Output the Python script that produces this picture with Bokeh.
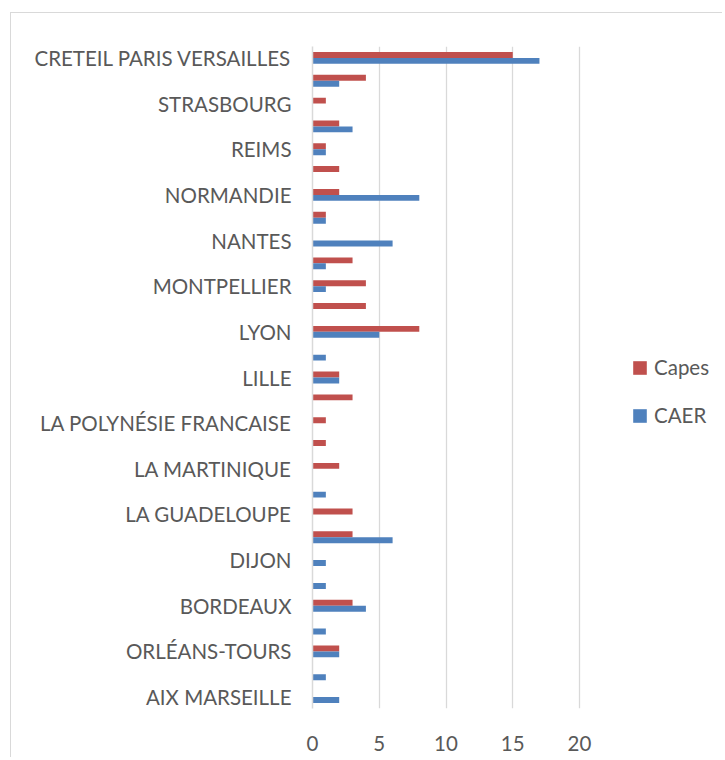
from bokeh.plotting import figure
from bokeh.models import ColumnDataSource, Range1d, FixedTicker, Legend, LegendItem
from bokeh.embed import file_html
from bokeh.resources import INLINE

# categories from bottom to top (hidden ones are not labelled in the reference)
categories = [
    "AIX MARSEILLE", "AMIENS", "ORLÉANS-TOURS", "BESANCON", "BORDEAUX",
    "CLERMONT-FERRAND", "DIJON", "GRENOBLE", "LA GUADELOUPE", "LA GUYANE",
    "LA MARTINIQUE", "LA NOUVELLE CALÉDONIE", "LA POLYNÉSIE FRANCAISE", "LA RÉUNION",
    "LILLE", "LIMOGES", "LYON", "MAYOTTE", "MONTPELLIER", "NANCY-METZ",
    "NANTES", "NICE", "NORMANDIE", "POITIERS", "REIMS", "RENNES",
    "STRASBOURG", "TOULOUSE", "CRETEIL PARIS VERSAILLES",
]
capes = [0, 0, 2, 0, 3, 0, 0, 3, 3, 0, 2, 1, 1, 3, 2, 0, 8, 4, 4, 3, 0, 1, 2, 2, 1, 2, 1, 4, 15]
caer = [2, 1, 2, 1, 4, 1, 1, 6, 0, 1, 0, 0, 0, 0, 2, 1, 5, 0, 1, 1, 6, 1, 8, 0, 1, 3, 0, 2, 17]
x_ticks = [0, 5, 10, 15, 20]
series_names = ["Capes", "CAER"]

RED = "#C0504D"
BLUE = "#4F81BD"
TXT = "#595959"
GRID = "#d9d9d9"
FONT = "Lato"
FS = "20.5px"

idx = list(range(len(categories)))
src = ColumnDataSource(dict(
    y_capes=[i + 0.13 for i in idx],
    y_caer=[i - 0.13 for i in idx],
    capes=capes,
    caer=caer,
))

# plot frame spans 301..712 px; the value axis 0..20 occupies the first 267 px,
# the remaining space holds the legend (as in the reference)
FRAME_W = 411
X_END = 20 * FRAME_W / 267.0

p = figure(
    width=712, height=745,
    x_range=Range1d(0, X_END), y_range=Range1d(-0.5, len(categories) - 0.5),
    output_backend="svg", toolbar_location=None,
    min_border_left=301, min_border_right=0, min_border_top=33, min_border_bottom=50,
)
p.margin = (12, 0, 0, 10)
p.styles = {"border-left": "1px solid #d9d9d9", "border-top": "1px solid #d9d9d9"}
p.outline_line_color = None
p.background_fill_color = "white"
p.border_fill_color = "white"

r_capes = p.hbar(y="y_capes", right="capes", left=0, height=0.26, source=src,
                 fill_color=RED, line_color=None)
r_caer = p.hbar(y="y_caer", right="caer", left=0, height=0.26, source=src,
                fill_color=BLUE, line_color=None)

# axes
p.xaxis.ticker = FixedTicker(ticks=x_ticks)
p.xaxis.axis_line_color = None
p.xaxis.major_tick_line_color = None
p.xaxis.minor_tick_line_color = None
p.xaxis.major_label_text_font = FONT
p.xaxis.major_label_text_font_size = FS
p.xaxis.major_label_text_color = TXT
p.xaxis.major_label_standoff = 21

even = idx[::2]
p.yaxis.ticker = FixedTicker(ticks=even)
p.yaxis.major_label_overrides = {i: categories[i] for i in even}
p.yaxis.axis_line_color = GRID
p.yaxis.axis_line_width = 1.5
p.yaxis.major_tick_line_color = None
p.yaxis.minor_tick_line_color = None
p.yaxis.major_label_text_font = FONT
p.yaxis.major_label_text_font_size = FS
p.yaxis.major_label_text_color = TXT
p.yaxis.major_label_standoff = 15

p.xgrid.ticker = FixedTicker(ticks=x_ticks)
p.xgrid.grid_line_color = GRID
p.xgrid.grid_line_width = 1.3
p.ygrid.grid_line_color = None

legend = Legend(
    items=[LegendItem(label=series_names[0], renderers=[r_capes]),
           LegendItem(label=series_names[1], renderers=[r_caer])],
    location=(319, 281),
    border_line_color=None, background_fill_alpha=0,
    glyph_width=17, glyph_height=17, label_height=20, spacing=24,
    label_text_font=FONT, label_text_font_size=FS, label_text_color=TXT,
    label_standoff=6, padding=10, margin=0,
)
p.add_layout(legend, "center")

open("out.html", "w").write(file_html(p, INLINE))
